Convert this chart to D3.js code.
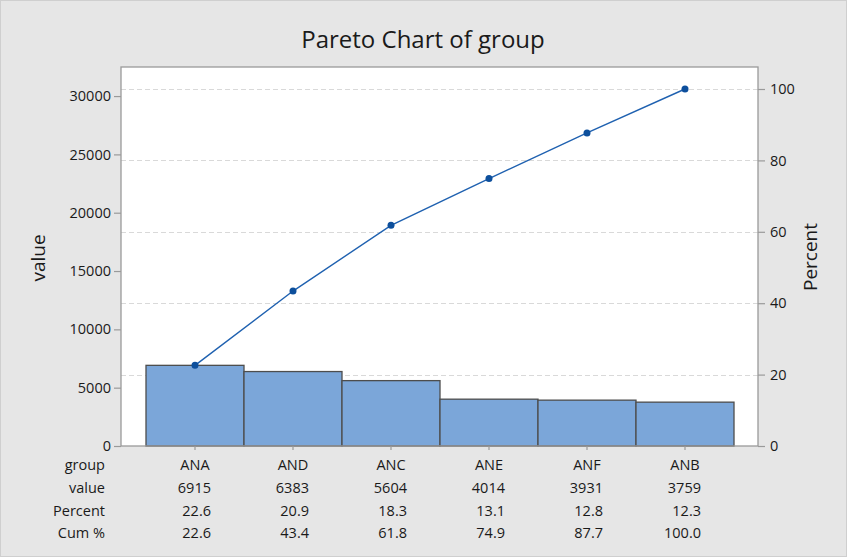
<!DOCTYPE html>
<html>
<head>
<meta charset="utf-8">
<script src="https://cdn.jsdelivr.net/npm/d3@7"></script>
<style>
  body { margin: 0; background: #fff; }
  text { font-family: "Open Sans", "Noto Sans", sans-serif; fill: #1a1a1a; }
</style>
</head>
<body>
<svg id="chart"></svg>
<script>
const groups = ["ANA", "AND", "ANC", "ANE", "ANF", "ANB"];
const values = [6915, 6383, 5604, 4014, 3931, 3759];
const percents = ["22.6", "20.9", "18.3", "13.1", "12.8", "12.3"];
const cumPercents = ["22.6", "43.4", "61.8", "74.9", "87.7", "100.0"];
const leftTicks = [0, 5000, 10000, 15000, 20000, 25000, 30000];
const rightTicks = [0, 20, 40, 60, 80, 100];

// SVG dimensions
const width = 847;
const height = 557;
const plot = { left: 121, right: 758, top: 67, bottom: 446 };

const svg = d3.select("#chart").attr("width", width).attr("height", height);

// background
svg.append("rect")
  .attr("x", 0.5).attr("y", 0.5)
  .attr("width", width - 1).attr("height", height - 1)
  .style("fill", "#e6e6e6")
  .style("stroke", "#cfcfcf");

svg.append("rect")
  .attr("x", plot.left).attr("y", plot.top)
  .attr("width", plot.right - plot.left).attr("height", plot.bottom - plot.top)
  .style("fill", "#ffffff");

const total = d3.sum(values);

// scales
const xScale = d3.scaleBand()
  .domain(groups)
  .range([plot.left + 25, plot.right - 24])
  .padding(0);

const yScale = d3.scaleLinear()
  .domain([0, total])
  .range([plot.bottom, 89]);

const pScale = d3.scaleLinear()
  .domain([0, 100])
  .range([plot.bottom, 89]);

// gridlines (right axis)
svg.selectAll("line.grid")
  .data(rightTicks.filter((d) => d > 0))
  .enter()
  .append("line")
  .attr("class", "grid")
  .attr("x1", plot.left)
  .attr("x2", plot.right)
  .attr("y1", (d) => Math.round(pScale(d)) + 0.5)
  .attr("y2", (d) => Math.round(pScale(d)) + 0.5)
  .style("stroke", "#d9d9d9")
  .style("stroke-width", 1)
  .style("stroke-dasharray", "5,3");

// bars
svg.selectAll("rect.bar")
  .data(values)
  .enter()
  .append("rect")
  .attr("class", "bar")
  .attr("x", (d, i) => xScale(groups[i]))
  .attr("y", (d) => yScale(d))
  .attr("width", xScale.bandwidth())
  .attr("height", (d) => plot.bottom - yScale(d))
  .style("fill", "#7ba6d9")
  .style("stroke", "#4d4d4d")
  .style("stroke-width", 1.3);

// plot border
svg.append("rect")
  .attr("x", plot.left).attr("y", plot.top)
  .attr("width", plot.right - plot.left).attr("height", plot.bottom - plot.top)
  .style("fill", "none")
  .style("stroke", "#9a9a9a")
  .style("stroke-width", 1.3);

// cumulative line
const cx = (d, i) => xScale(groups[i]) + xScale.bandwidth() / 2;
const line = d3.line()
  .x((d, i) => cx(d, i))
  .y((d) => pScale(+d));

svg.append("path")
  .datum(cumPercents)
  .attr("d", line)
  .style("fill", "none")
  .style("stroke", "#1f61b0")
  .style("stroke-width", 1.4);

svg.selectAll("circle.pt")
  .data(cumPercents)
  .enter()
  .append("circle")
  .attr("class", "pt")
  .attr("cx", cx)
  .attr("cy", (d) => pScale(+d))
  .attr("r", 3.5)
  .style("fill", "#0d4f9c");

// left axis
const leftAxis = svg.append("g")
  .attr("transform", `translate(${plot.left}, 0)`)
  .call(d3.axisLeft(yScale).tickValues(leftTicks).tickSize(7).tickPadding(3).tickFormat(d3.format("d")));

// right axis
const rightAxis = svg.append("g")
  .attr("transform", `translate(${plot.right}, 0)`)
  .call(d3.axisRight(pScale).tickValues(rightTicks).tickSize(7).tickPadding(5));

// bottom ticks
const bottomAxis = svg.append("g")
  .attr("transform", `translate(0, ${plot.bottom})`)
  .call(d3.axisBottom(xScale).tickSize(4).tickFormat(""));

[leftAxis, rightAxis, bottomAxis].forEach((g) => {
  g.select(".domain").remove();
  g.selectAll(".tick line").style("stroke", "#9a9a9a").style("stroke-width", 1.2);
  g.selectAll(".tick text")
    .style("font-family", "'Open Sans', 'Noto Sans', sans-serif")
    .style("font-size", "14.5px")
    .style("fill", "#1a1a1a");
});

// title
svg.append("text")
  .attr("x", 423)
  .attr("y", 48)
  .attr("text-anchor", "middle")
  .style("font-size", "24px")
  .text("Pareto Chart of group");

// axis titles
svg.append("text")
  .attr("transform", "translate(45, 258) rotate(-90)")
  .attr("text-anchor", "middle")
  .style("font-size", "19px")
  .text("value");

svg.append("text")
  .attr("transform", "translate(817, 257) rotate(-90)")
  .attr("text-anchor", "middle")
  .style("font-size", "19px")
  .text("Percent");

// table below
const rows = [
  { label: "group", cells: groups, anchor: "middle", dx: 0 },
  { label: "value", cells: values, anchor: "end", dx: 16 },
  { label: "Percent", cells: percents, anchor: "end", dx: 16 },
  { label: "Cum %", cells: cumPercents, anchor: "end", dx: 16 },
];
const rowY = [470, 493, 516, 538];

rows.forEach((row, r) => {
  svg.append("text")
    .attr("x", 105)
    .attr("y", rowY[r])
    .attr("text-anchor", "end")
    .style("font-size", "14.5px")
    .text(row.label);

  svg.selectAll(`text.row${r}`)
    .data(row.cells)
    .enter()
    .append("text")
    .attr("class", `row${r}`)
    .attr("x", (d, i) => cx(d, i) + row.dx)
    .attr("y", rowY[r])
    .attr("text-anchor", row.anchor)
    .style("font-size", "14.5px")
    .text((d) => d);
});
</script>
</body>
</html>
